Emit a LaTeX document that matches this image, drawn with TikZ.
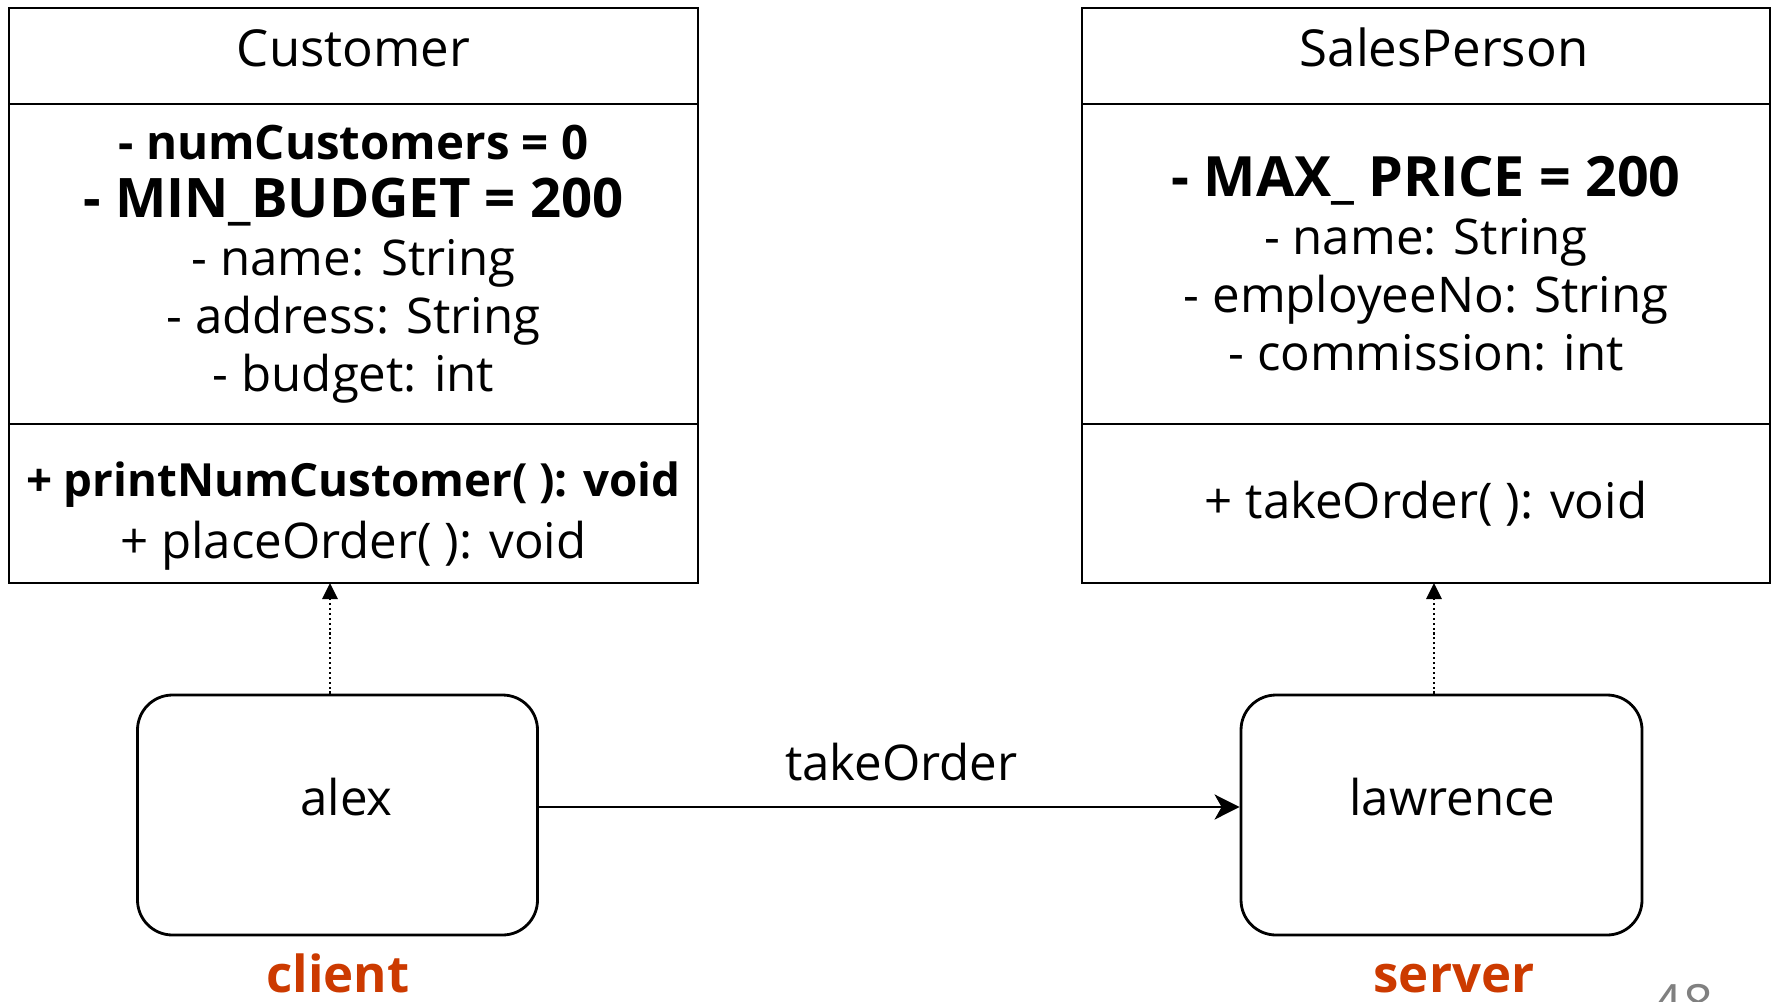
\documentclass[tikz,border=0pt]{standalone}
\usepackage{fontspec}
\setmainfont{Open Sans}
\usetikzlibrary{arrows.meta, positioning}
\definecolor{rolered}{RGB}{204,58,0}
\tikzset{
  every node/.style={font=\fontsize{14}{16.5}\selectfont},
  clshead/.style = {rectangle, draw, line width=0.8pt, minimum width=6.89cm,
                    minimum height=0.96cm, inner sep=0pt, outer sep=0pt, align=center},
  clstitle/.style= {clshead, font=\fontsize{14.5}{16.5}\selectfont,
                    text height=0.37cm, text depth=0.15cm},
  clsattr/.style = {clshead, minimum height=3.20cm},
  clsmeth/.style = {clshead, minimum height=1.59cm},
  obj/.style     = {rectangle, rounded corners=0.35cm, draw, line width=0.8pt,
                    minimum width=4.0cm, minimum height=2.4cm, inner sep=0pt,
                    text height=0.37cm, text depth=0.37cm},
  msg/.style     = {-{Stealth[length=0.25cm,width=0.25cm,inset=0.07cm]}, line width=0.8pt},
  dep/.style     = {-{Triangle[length=0.16cm,width=0.15cm]}, line width=0.8pt,
                    dash pattern=on 0.6pt off 0.8pt},
  role/.style    = {font=\bfseries\fontsize{14.5}{18}\selectfont, text=rolered, inner sep=0pt},
}

\begin{document}
\begin{tikzpicture}
  \useasboundingbox (0,0) rectangle (17.73,10.01);

  % ---- class Customer ----
  \node[clstitle] (cust) at (3.535,9.45) {Customer};
  \node[clsattr, below=0pt of cust] (custattr)
    {{\bfseries\fontsize{13.5}{16.5}\selectfont - numCustomers = 0}\\
     {\bfseries\fontsize{15.5}{16.5}\selectfont - MIN\_BUDGET = 200}\\
     - name: String\\
     - address: String\\
     - budget: int};
  \node[clsmeth, below=0pt of custattr] (custmeth)
    {{\bfseries\fontsize{13}{16.5}\selectfont\rule{0pt}{17pt}+ printNumCustomer( ): void}\\[1pt]
     + placeOrder( ): void};

  % ---- class SalesPerson ----
  \node[clstitle, minimum width=6.88cm] (sales) at (14.26,9.45) {\hspace*{0.36cm}SalesPerson};
  \node[clsattr, minimum width=6.88cm, below=0pt of sales] (salesattr)
    {{\bfseries\fontsize{15.8}{16.5}\selectfont - MAX\_ PRICE = 200}\\
     - name: String\\
     - employeeNo: String\\
     - commission: int};
  \node[clsmeth, minimum width=6.88cm, below=0pt of salesattr] (salesmeth)
    {+ takeOrder( ): void};

  % ---- objects ----
  \node[obj] (alex) at (3.375,1.86) {\hspace*{0.18cm}alex};
  \node[obj, minimum width=4.01cm] (lawrence) at (14.415,1.86) {\hspace*{0.22cm}lawrence};

  \node[role, anchor=base] (client) at (3.38,0.09) {client};
  \node[role, anchor=base] (server) at (14.54,0.09) {server};
  \node[anchor=north, text=gray, font=\fontsize{15}{18}\selectfont, inner sep=0pt] (pageno) at (16.83,0.17) {48};

  % ---- instance-of links ----
  \draw[dep] ([xshift=-0.075cm]alex.north) -- ([xshift=-0.075cm]alex.north |- custmeth.south);
  \draw[dep] ([xshift=-0.075cm]lawrence.north) -- ([xshift=-0.075cm]lawrence.north |- salesmeth.south);

  % ---- message ----
  \draw[msg] ([yshift=0.08cm]alex.east) -- ([yshift=0.08cm]lawrence.west)
        node[midway, above=0.25cm, xshift=0.12cm, inner sep=0pt] (msglbl) {takeOrder};
\end{tikzpicture}
\end{document}
